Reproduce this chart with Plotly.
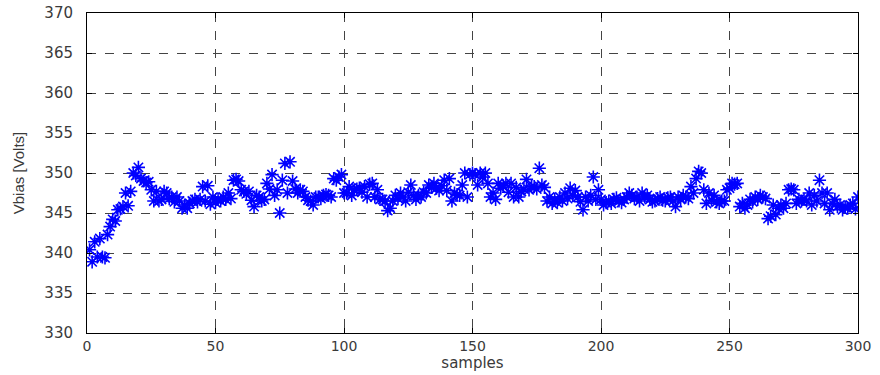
import plotly.graph_objects as go

samples = list(range(1, 301))
vbias = [
    340.4, 338.9, 341.4, 339.5, 341.8, 339.5, 339.4, 342.3, 343.3, 344.2,
    344.0, 345.4, 345.5, 345.8, 347.5, 345.9, 347.7, 350.0, 349.7, 350.7,
    349.3, 349.0, 348.8, 348.9, 347.9, 346.5, 347.7, 346.5, 346.7, 347.7,
    347.5, 346.8, 347.0, 346.4, 347.0, 346.5, 345.6, 346.0, 345.6, 346.2,
    346.5, 346.7, 346.4, 346.7, 348.3, 346.5, 348.4, 346.1, 347.0, 346.3,
    346.7, 346.5, 347.0, 346.7, 347.5, 346.8, 349.1, 349.2, 349.0, 347.9,
    347.7, 347.4, 347.7, 346.6, 345.8, 347.2, 347.0, 346.5, 346.7, 348.7,
    348.0, 349.8, 347.2, 347.9, 345.0, 349.1, 351.2, 347.5, 351.4, 349.0,
    348.0, 347.5, 347.9, 347.7, 347.0, 346.6, 346.5, 346.0, 347.0, 347.0,
    346.8, 347.2, 347.3, 347.2, 347.0, 349.3, 349.1, 349.5, 349.8, 347.5,
    347.5, 348.3, 347.2, 347.9, 348.0, 348.1, 347.6, 348.3, 347.0, 348.6,
    348.7, 347.0, 347.9, 346.7, 346.7, 346.5, 345.3, 345.6, 346.5, 347.2,
    346.8, 347.5, 347.0, 346.5, 347.6, 348.5, 347.2, 346.7, 347.2, 347.0,
    347.6, 347.5, 348.5, 348.2, 348.7, 348.1, 347.8, 348.4, 349.1, 347.8,
    349.3, 346.5, 347.5, 347.3, 347.2, 348.5, 350.0, 347.0, 349.8, 350.0,
    349.8, 348.5, 350.0, 349.5, 350.0, 348.7, 347.0, 347.5, 346.7, 348.7,
    348.1, 348.4, 348.7, 347.6, 348.7, 347.0, 348.2, 347.0, 347.7, 348.0,
    349.2, 347.9, 348.3, 348.3, 348.0, 350.6, 348.5, 348.2, 346.5, 347.0,
    346.2, 346.7, 346.3, 347.0, 346.5, 347.5, 346.8, 348.1, 347.2, 347.8,
    347.0, 346.4, 345.4, 347.0, 346.5, 347.2, 349.5, 346.7, 347.9, 346.7,
    346.0, 346.3, 346.5, 346.2, 346.7, 346.9, 346.5, 346.3, 346.7, 347.0,
    347.5, 347.2, 346.8, 347.0, 346.5, 347.5, 347.0, 347.2, 346.7, 346.4,
    346.5, 346.8, 347.0, 346.6, 346.5, 346.9, 347.0, 346.5, 345.8, 347.0,
    346.7, 347.2, 347.0, 346.8, 348.3, 347.5, 349.3, 350.2, 350.0, 347.9,
    346.2, 347.5, 346.6, 347.2, 346.4, 346.2, 346.5, 346.5, 347.9, 348.1,
    348.7, 348.6, 348.7, 345.8, 346.2, 345.6, 346.0, 346.7, 346.4, 347.0,
    346.7, 347.2, 347.0, 346.8, 344.3, 344.6, 346.0, 344.8, 345.6, 346.0,
    345.6, 346.2, 347.9, 348.0, 347.9, 346.2, 346.7, 346.5, 346.7, 346.5,
    347.5, 346.0, 347.2, 346.5, 349.1, 347.5, 346.2, 347.5, 345.4, 346.2,
    346.7, 345.8, 346.0, 345.4, 345.7, 345.6, 346.0, 346.2, 345.5, 347.0,
]

x_ticks = [0, 50, 100, 150, 200, 250, 300]
y_ticks = [330, 335, 340, 345, 350, 355, 360, 365, 370]

fig = go.Figure()
fig.add_trace(go.Scatter(
    x=samples, y=vbias, mode="markers",
    marker=dict(symbol="asterisk-open", size=11, color="#0000ff",
                line=dict(color="#0000ff", width=1.6)),
    showlegend=False,
))

axis_common = dict(
    showline=True, linecolor="black", linewidth=1, mirror="ticks",
    ticks="inside", ticklen=5, tickcolor="black",
    showgrid=True, gridcolor="#444444", griddash="dash", gridwidth=1,
    zeroline=False, automargin=False,
)

fig.update_layout(
    width=880, height=375,
    margin=dict(l=87, r=22, t=13, b=42),
    plot_bgcolor="white", paper_bgcolor="white",
    xaxis=dict(range=[0, 300], tickvals=x_ticks, ticklabelstandoff=0, **axis_common,
               tickfont=dict(family="DejaVu Sans, Verdana, sans-serif", size=14, color="#3a3a3a"),
               title=dict(text="samples", standoff=1,
                          font=dict(family="DejaVu Sans, Verdana, sans-serif", size=15, color="#3a3a3a"))),
    yaxis=dict(range=[330, 370], tickvals=y_ticks, ticklabelstandoff=10, **axis_common,
               tickfont=dict(family="DejaVu Sans, Verdana, sans-serif", size=15, color="#3a3a3a"),
               title=dict(text="Vbias [Volts]", standoff=16,
                          font=dict(family="Liberation Sans, Arial, sans-serif", size=15, color="#3a3a3a"))),
)

fig.write_html("out.html")
